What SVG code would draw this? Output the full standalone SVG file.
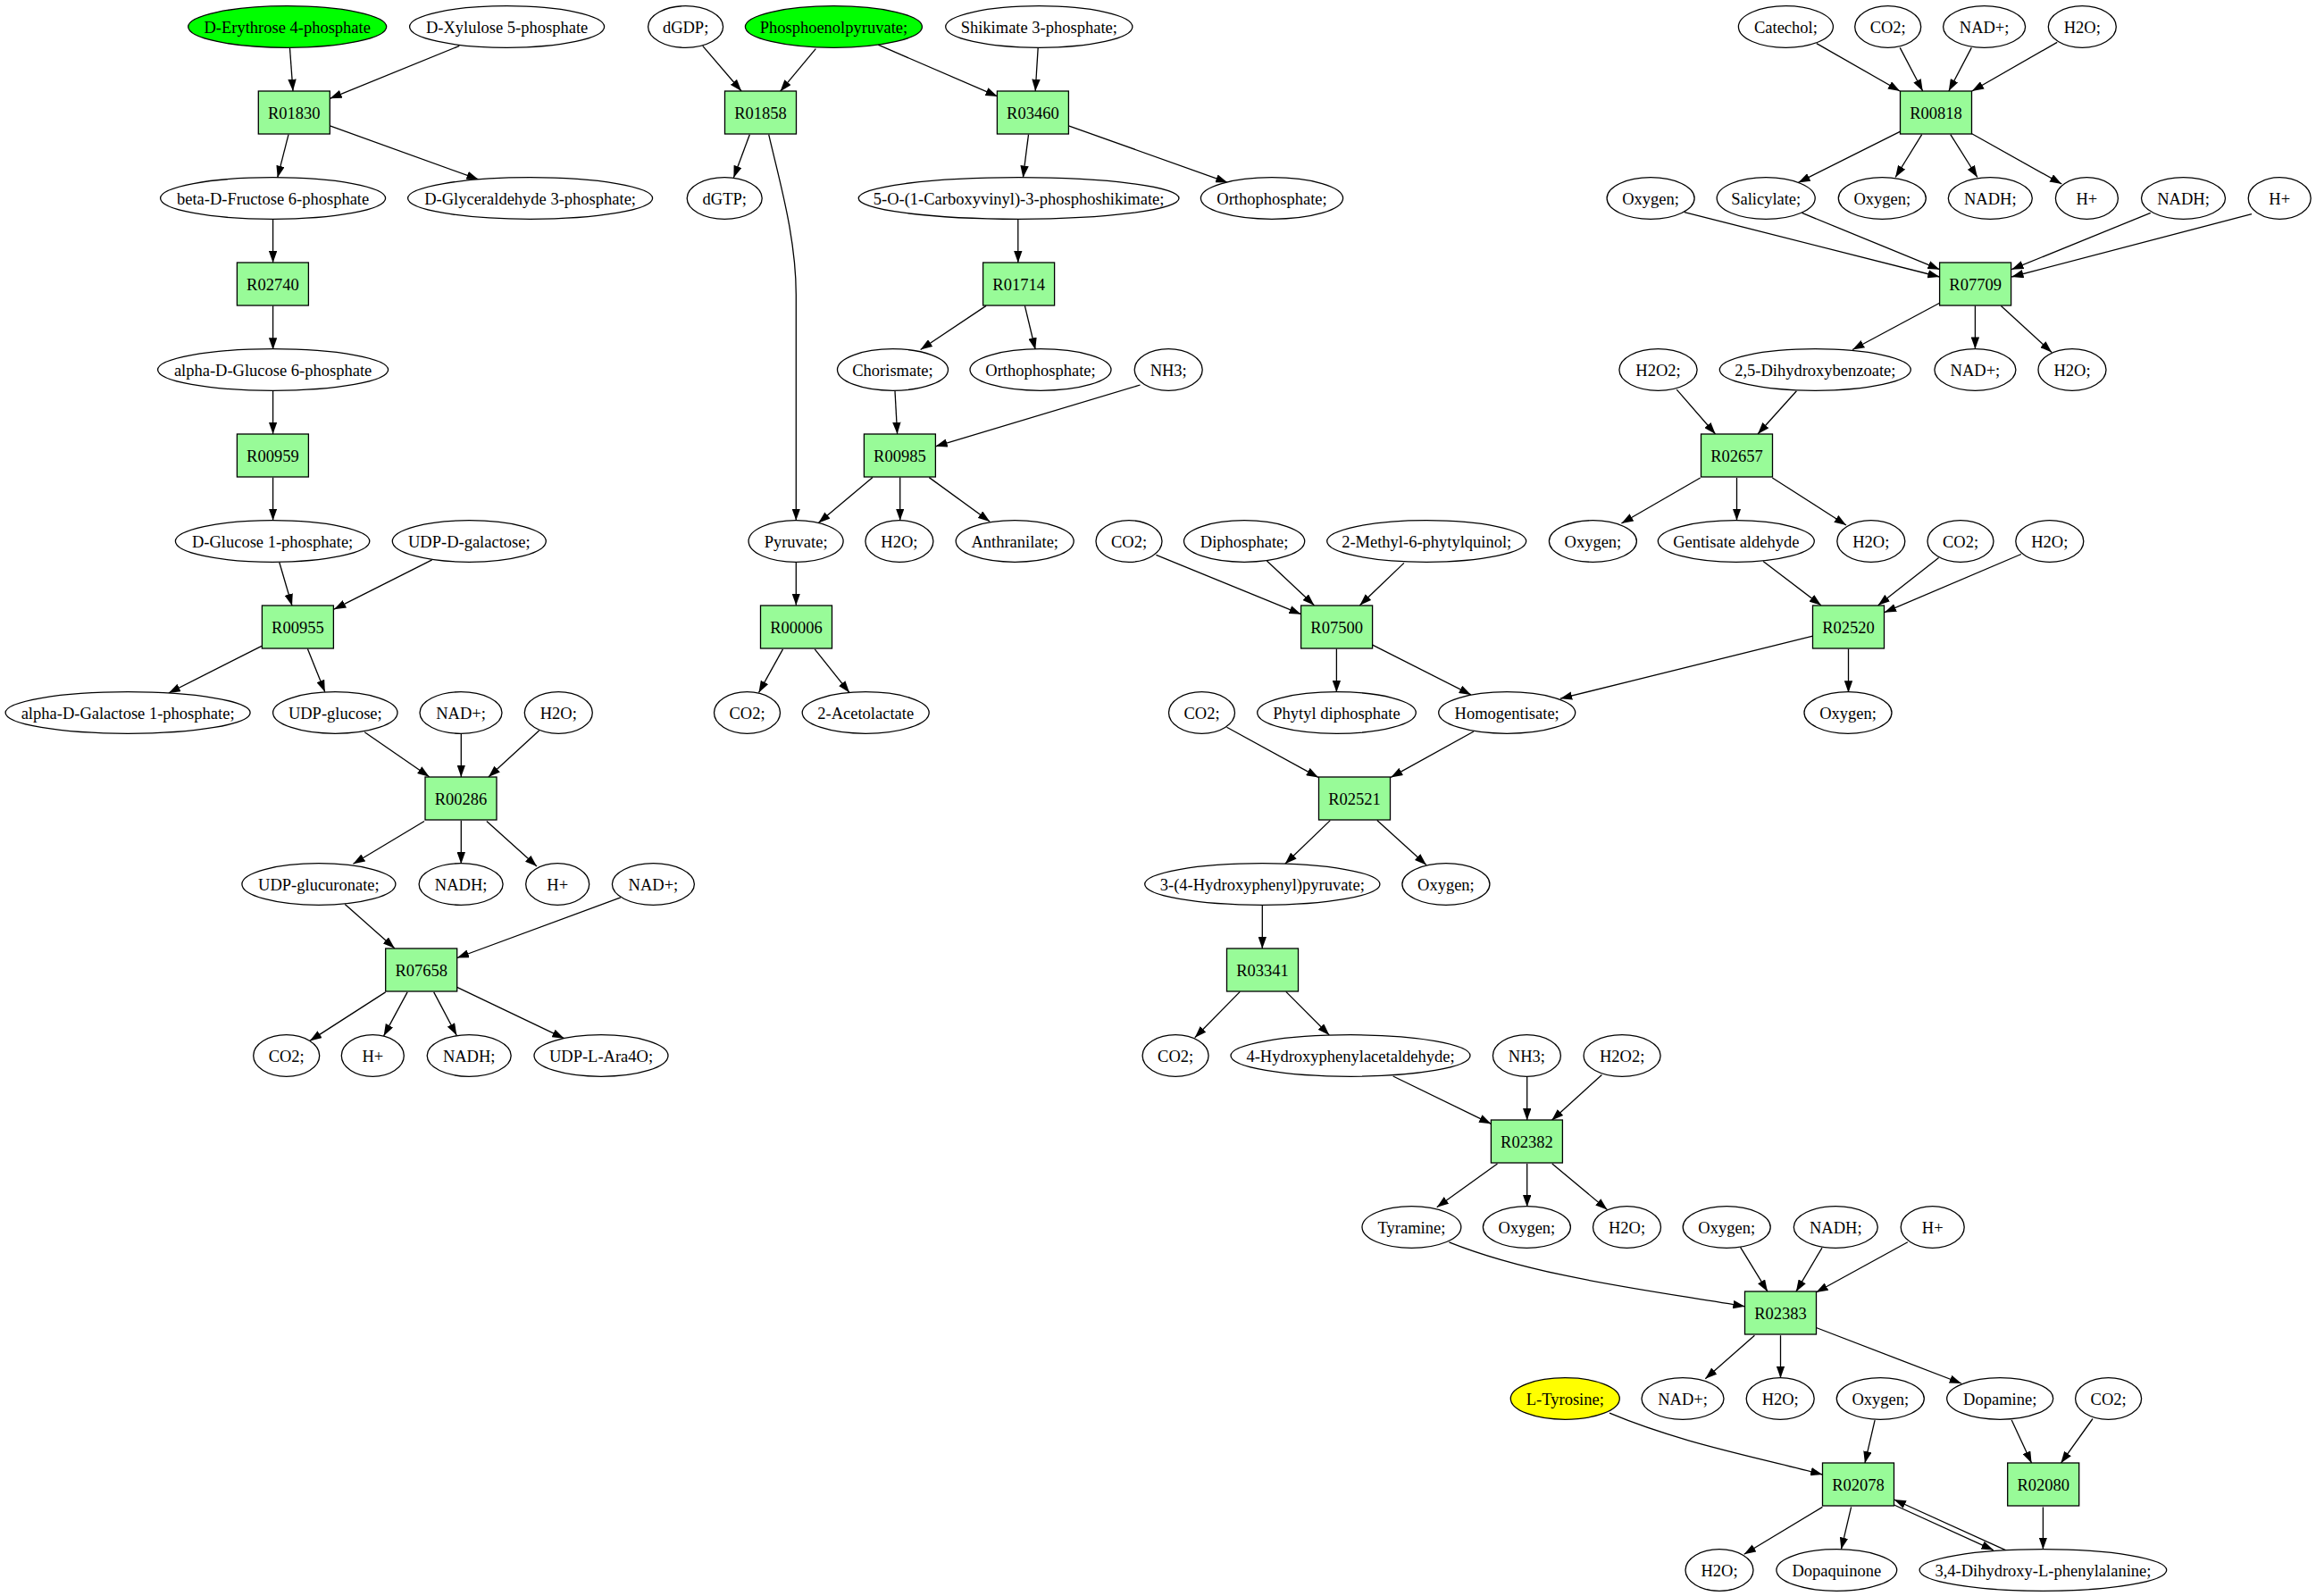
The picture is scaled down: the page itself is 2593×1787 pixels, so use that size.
<svg xmlns="http://www.w3.org/2000/svg" width="2593" height="1787" viewBox="0 0 2593 1787">
<style>
.e{fill:#fff;stroke:#000;stroke-width:1.3}
.g{fill:#00ff00;stroke:#000;stroke-width:1.3}
.y{fill:#ffff00;stroke:#000;stroke-width:1.3}
.r{fill:#98fb98;stroke:#000;stroke-width:1.3}
text{font-family:"Liberation Serif","Times New Roman",serif;font-size:18.5px;text-anchor:middle;fill:#000}
#edges line,#edges path{stroke:#000;stroke-width:1.3;fill:none;marker-end:url(#a)}
</style>
<defs>
<marker id="a" markerUnits="userSpaceOnUse" viewBox="0 0 13.3 9.4" markerWidth="13.3" markerHeight="9.4" refX="13.3" refY="4.7" orient="auto"><path d="M0,0 L13.3,4.7 L0,9.4 z" fill="#000"/></marker>
</defs>
<rect width="2593" height="1787" fill="#fff"/>
<g id="edges">
<line x1="324.5" y1="54" x2="328" y2="102"/>
<line x1="514.3" y1="51.4" x2="369.4" y2="110.3"/>
<line x1="323" y1="150.7" x2="310.7" y2="198.9"/>
<line x1="369.4" y1="140.8" x2="535.7" y2="200.9"/>
<line x1="305.6" y1="245.5" x2="305.6" y2="294.2"/>
<line x1="305.6" y1="342.4" x2="305.6" y2="391.5"/>
<line x1="305.6" y1="437.7" x2="305.6" y2="486"/>
<line x1="305.6" y1="534.6" x2="305.6" y2="582.8"/>
<line x1="312.8" y1="629.7" x2="327" y2="678.3"/>
<line x1="483.7" y1="626.9" x2="374" y2="682.2"/>
<line x1="292.9" y1="723.4" x2="188.8" y2="776"/>
<line x1="344.4" y1="726.5" x2="363.8" y2="774.8"/>
<line x1="408.2" y1="819.8" x2="480.6" y2="869.7"/>
<line x1="516.3" y1="821.4" x2="516.3" y2="870"/>
<line x1="603.6" y1="817.9" x2="546.9" y2="870"/>
<line x1="475" y1="919.5" x2="395.4" y2="967.3"/>
<line x1="516.3" y1="918.7" x2="516.3" y2="967.3"/>
<line x1="544.9" y1="919.5" x2="601" y2="970.1"/>
<line x1="386.2" y1="1012.4" x2="441.8" y2="1061.8"/>
<line x1="694.9" y1="1004.9" x2="511.7" y2="1072.5"/>
<line x1="431.6" y1="1110.9" x2="346.9" y2="1165.4"/>
<line x1="456.1" y1="1110.9" x2="429.6" y2="1159.9"/>
<line x1="485.7" y1="1110.9" x2="511.2" y2="1159.1"/>
<line x1="511.7" y1="1105.3" x2="631.6" y2="1162.7"/>
<line x1="786.7" y1="51.4" x2="830.1" y2="102"/>
<line x1="913.3" y1="54.6" x2="873.5" y2="102.4"/>
<line x1="983.2" y1="50.2" x2="1116.8" y2="107.9"/>
<line x1="1162.2" y1="53.4" x2="1159.2" y2="102"/>
<line x1="839.3" y1="150.7" x2="821.4" y2="198.9"/>
<path d="M860.7,150.7 C872,200 891.3,265 891.3,330 L891.3,582.8"/>
<line x1="1151.5" y1="150.7" x2="1145.4" y2="198.9"/>
<line x1="1196.4" y1="140.8" x2="1374.5" y2="204.4"/>
<line x1="1139.8" y1="245.5" x2="1139.8" y2="294.2"/>
<line x1="1104.1" y1="342.4" x2="1030.6" y2="391.5"/>
<line x1="1147.4" y1="342.4" x2="1159.2" y2="391.5"/>
<line x1="1002" y1="437.7" x2="1004.6" y2="486"/>
<line x1="1276.5" y1="431" x2="1047.4" y2="499.8"/>
<line x1="977" y1="534.6" x2="916.3" y2="585.6"/>
<line x1="1007.7" y1="534.6" x2="1007.7" y2="582.8"/>
<line x1="1040.3" y1="534.6" x2="1108.2" y2="584"/>
<line x1="891.3" y1="630" x2="891.3" y2="677.8"/>
<line x1="876.5" y1="726.9" x2="849.5" y2="775.5"/>
<line x1="912.2" y1="726.9" x2="951" y2="775.5"/>
<line x1="1294.4" y1="621.3" x2="1456.6" y2="687.7"/>
<line x1="1418.4" y1="628" x2="1471.4" y2="677.8"/>
<line x1="1571.9" y1="630.4" x2="1522.4" y2="677.8"/>
<line x1="1496.4" y1="726.5" x2="1496.4" y2="775.1"/>
<line x1="1536.7" y1="722.1" x2="1646.9" y2="777.9"/>
<line x1="2029.7" y1="712.2" x2="1746.9" y2="782.2"/>
<line x1="1373.5" y1="814.2" x2="1476" y2="870.4"/>
<line x1="1650" y1="819" x2="1557.1" y2="870.4"/>
<line x1="1489.3" y1="918.6" x2="1438.8" y2="967.3"/>
<line x1="1541.8" y1="918.6" x2="1596.9" y2="968.5"/>
<line x1="1413.3" y1="1013.5" x2="1413.3" y2="1062.2"/>
<line x1="1388.3" y1="1110.4" x2="1337.8" y2="1161.8"/>
<line x1="1439.8" y1="1110.4" x2="1488.3" y2="1159"/>
<line x1="1559.7" y1="1205" x2="1669.4" y2="1258.3"/>
<line x1="1709.7" y1="1205.8" x2="1709.7" y2="1254.4"/>
<line x1="1793.4" y1="1203.4" x2="1737.2" y2="1254.4"/>
<line x1="1676.5" y1="1303" x2="1608.7" y2="1351.7"/>
<line x1="1709.7" y1="1303" x2="1709.7" y2="1351.3"/>
<line x1="1737.8" y1="1303" x2="1799.5" y2="1354.4"/>
<path d="M1622.4,1390.8 C1720,1430 1850,1445 1953.6,1462.8"/>
<line x1="1948.5" y1="1396.3" x2="1979" y2="1446.2"/>
<path d="M1802,1582.2 C1880,1615 1960,1630 2040.4,1651"/>
<line x1="2040" y1="1397.1" x2="2010.9" y2="1446.2"/>
<line x1="2135.9" y1="1390.8" x2="2033.3" y2="1447"/>
<line x1="1964.4" y1="1495.2" x2="1909.3" y2="1543.8"/>
<line x1="1993.5" y1="1495.2" x2="1993.5" y2="1543"/>
<line x1="2033.3" y1="1486.5" x2="2196" y2="1549"/>
<line x1="2099.1" y1="1590.1" x2="2087.9" y2="1638.3"/>
<line x1="2252.2" y1="1590.1" x2="2274.6" y2="1638.3"/>
<line x1="2343" y1="1588.5" x2="2307.3" y2="1638.3"/>
<line x1="2040.4" y1="1687.4" x2="1952.7" y2="1740.3"/>
<line x1="2072.6" y1="1687.4" x2="2061.4" y2="1734.8"/>
<line x1="2120.6" y1="1685" x2="2231.8" y2="1735.6"/>
<line x1="2247.1" y1="1736.4" x2="2120.6" y2="1679"/>
<line x1="2287.4" y1="1687.4" x2="2287.4" y2="1734.8"/>
<line x1="2033.8" y1="48.6" x2="2127.2" y2="102"/>
<line x1="2127.2" y1="53.4" x2="2152.7" y2="102"/>
<line x1="2207.3" y1="53.4" x2="2181.8" y2="102"/>
<line x1="2303.2" y1="47.4" x2="2207.8" y2="102"/>
<line x1="2127.7" y1="147.1" x2="2013.4" y2="204.4"/>
<line x1="2151.7" y1="150.7" x2="2122.1" y2="198.5"/>
<line x1="2183.8" y1="150.7" x2="2213.9" y2="198.5"/>
<line x1="2207.3" y1="149.5" x2="2308.3" y2="206"/>
<line x1="1885.9" y1="237.6" x2="2171.6" y2="310"/>
<line x1="2017.5" y1="238.4" x2="2171.6" y2="301.7"/>
<line x1="2407.8" y1="238.4" x2="2252.2" y2="301.7"/>
<line x1="2521" y1="239.6" x2="2252.2" y2="310"/>
<line x1="2171.6" y1="339.3" x2="2074.1" y2="391.5"/>
<line x1="2211.4" y1="342.4" x2="2211.4" y2="390.7"/>
<line x1="2240.4" y1="342.4" x2="2297.1" y2="394.6"/>
<line x1="1877.2" y1="436.1" x2="1920.6" y2="486"/>
<line x1="2011.4" y1="437.7" x2="1968" y2="486"/>
<line x1="1903.7" y1="535" x2="1815.4" y2="586"/>
<line x1="1944.5" y1="535" x2="1944.5" y2="582.8"/>
<line x1="1984.3" y1="535" x2="2067" y2="588"/>
<line x1="1974.1" y1="628.4" x2="2038.9" y2="677.8"/>
<line x1="2170.6" y1="624.5" x2="2102.7" y2="677.8"/>
<line x1="2262.9" y1="620.5" x2="2109.8" y2="685.7"/>
<line x1="2069.5" y1="726.5" x2="2069.5" y2="775.5"/>
</g>
<g id="R01830"><rect class="r" x="289.3" y="102" width="80" height="48"/><text x="329.3" y="132.5">R01830</text></g>
<g id="R02740"><rect class="r" x="265.4" y="294" width="80" height="48"/><text x="305.4" y="324.5">R02740</text></g>
<g id="R00959"><rect class="r" x="265.4" y="486" width="80" height="48"/><text x="305.4" y="516.5">R00959</text></g>
<g id="R00955"><rect class="r" x="293.4" y="678" width="80" height="48"/><text x="333.4" y="708.5">R00955</text></g>
<g id="R00286"><rect class="r" x="476" y="870" width="80" height="48"/><text x="516" y="900.5">R00286</text></g>
<g id="R07658"><rect class="r" x="431.7" y="1062" width="80" height="48"/><text x="471.7" y="1092.5">R07658</text></g>
<g id="R01858"><rect class="r" x="811.5" y="102" width="80" height="48"/><text x="851.5" y="132.5">R01858</text></g>
<g id="R03460"><rect class="r" x="1116.4" y="102" width="80" height="48"/><text x="1156.4" y="132.5">R03460</text></g>
<g id="R01714"><rect class="r" x="1100.6" y="294" width="80" height="48"/><text x="1140.6" y="324.5">R01714</text></g>
<g id="R00985"><rect class="r" x="967.4" y="486" width="80" height="48"/><text x="1007.4" y="516.5">R00985</text></g>
<g id="R00006"><rect class="r" x="851.5" y="678" width="80" height="48"/><text x="891.5" y="708.5">R00006</text></g>
<g id="R07500"><rect class="r" x="1456.6" y="678" width="80" height="48"/><text x="1496.6" y="708.5">R07500</text></g>
<g id="R02521"><rect class="r" x="1476.5" y="870" width="80" height="48"/><text x="1516.5" y="900.5">R02521</text></g>
<g id="R03341"><rect class="r" x="1373.5" y="1062" width="80" height="48"/><text x="1413.5" y="1092.5">R03341</text></g>
<g id="R02382"><rect class="r" x="1669.4" y="1254" width="80" height="48"/><text x="1709.4" y="1284.5">R02382</text></g>
<g id="R02383"><rect class="r" x="1953.5" y="1446" width="80" height="48"/><text x="1993.5" y="1476.5">R02383</text></g>
<g id="R02078"><rect class="r" x="2040.5" y="1638" width="80" height="48"/><text x="2080.5" y="1668.5">R02078</text></g>
<g id="R02080"><rect class="r" x="2247.7" y="1638" width="80" height="48"/><text x="2287.7" y="1668.5">R02080</text></g>
<g id="R00818"><rect class="r" x="2127.5" y="102" width="80" height="48"/><text x="2167.5" y="132.5">R00818</text></g>
<g id="R07709"><rect class="r" x="2171.6" y="294" width="80" height="48"/><text x="2211.6" y="324.5">R07709</text></g>
<g id="R02657"><rect class="r" x="1904.5" y="486" width="80" height="48"/><text x="1944.5" y="516.5">R02657</text></g>
<g id="R02520"><rect class="r" x="2029.5" y="678" width="80" height="48"/><text x="2069.5" y="708.5">R02520</text></g>
<g id="c_erythrose4p"><ellipse class="g" cx="321.7" cy="30" rx="111" ry="23.3"/><text x="321.7" y="36.5">D-Erythrose 4-phosphate</text></g>
<g id="c_xylulose5p"><ellipse class="e" cx="567.6" cy="30" rx="109" ry="23.3"/><text x="567.6" y="36.5">D-Xylulose 5-phosphate</text></g>
<g id="c_dgdp"><ellipse class="e" cx="767.6" cy="30" rx="42" ry="23.3"/><text x="767.6" y="36.5">dGDP;</text></g>
<g id="c_pep"><ellipse class="g" cx="933.4" cy="30" rx="99" ry="23.3"/><text x="933.4" y="36.5">Phosphoenolpyruvate;</text></g>
<g id="c_shikimate3p"><ellipse class="e" cx="1163.3" cy="30" rx="104.6" ry="23.3"/><text x="1163.3" y="36.5">Shikimate 3-phosphate;</text></g>
<g id="c_catechol"><ellipse class="e" cx="1999.4" cy="30" rx="53" ry="23.3"/><text x="1999.4" y="36.5">Catechol;</text></g>
<g id="c_co2_1"><ellipse class="e" cx="2113.7" cy="30" rx="37" ry="23.3"/><text x="2113.7" y="36.5">CO2;</text></g>
<g id="c_nad_1"><ellipse class="e" cx="2221.6" cy="30" rx="46" ry="23.3"/><text x="2221.6" y="36.5">NAD+;</text></g>
<g id="c_h2o_1"><ellipse class="e" cx="2331.3" cy="30" rx="38" ry="23.3"/><text x="2331.3" y="36.5">H2O;</text></g>
<g id="c_fructose6p"><ellipse class="e" cx="305.6" cy="222" rx="126" ry="23.3"/><text x="305.6" y="228.5">beta-D-Fructose 6-phosphate</text></g>
<g id="c_glyceraldehyde3p"><ellipse class="e" cx="593.6" cy="222" rx="137" ry="23.3"/><text x="593.6" y="228.5">D-Glyceraldehyde 3-phosphate;</text></g>
<g id="c_dgtp"><ellipse class="e" cx="811.2" cy="222" rx="42" ry="23.3"/><text x="811.2" y="228.5">dGTP;</text></g>
<g id="c_cvps"><ellipse class="e" cx="1140.6" cy="222" rx="179.4" ry="23.3"/><text x="1140.6" y="228.5">5-O-(1-Carboxyvinyl)-3-phosphoshikimate;</text></g>
<g id="c_orthop_1"><ellipse class="e" cx="1424" cy="222" rx="79.6" ry="23.3"/><text x="1424" y="228.5">Orthophosphate;</text></g>
<g id="c_oxygen_1"><ellipse class="e" cx="1848.1" cy="222" rx="49" ry="23.3"/><text x="1848.1" y="228.5">Oxygen;</text></g>
<g id="c_salicylate"><ellipse class="e" cx="1977.2" cy="222" rx="55" ry="23.3"/><text x="1977.2" y="228.5">Salicylate;</text></g>
<g id="c_oxygen_2"><ellipse class="e" cx="2107.3" cy="222" rx="49" ry="23.3"/><text x="2107.3" y="228.5">Oxygen;</text></g>
<g id="c_nadh_1"><ellipse class="e" cx="2228.3" cy="222" rx="47" ry="23.3"/><text x="2228.3" y="228.5">NADH;</text></g>
<g id="c_hplus_1"><ellipse class="e" cx="2336.4" cy="222" rx="35" ry="23.3"/><text x="2336.4" y="228.5">H+</text></g>
<g id="c_nadh_2"><ellipse class="e" cx="2444.5" cy="222" rx="47" ry="23.3"/><text x="2444.5" y="228.5">NADH;</text></g>
<g id="c_hplus_2"><ellipse class="e" cx="2552.2" cy="222" rx="35" ry="23.3"/><text x="2552.2" y="228.5">H+</text></g>
<g id="c_glucose6p"><ellipse class="e" cx="305.6" cy="414" rx="129" ry="23.3"/><text x="305.6" y="420.5">alpha-D-Glucose 6-phosphate</text></g>
<g id="c_chorismate"><ellipse class="e" cx="999.5" cy="414" rx="62" ry="23.3"/><text x="999.5" y="420.5">Chorismate;</text></g>
<g id="c_orthop_2"><ellipse class="e" cx="1165" cy="414" rx="79" ry="23.3"/><text x="1165" y="420.5">Orthophosphate;</text></g>
<g id="c_nh3_1"><ellipse class="e" cx="1308.2" cy="414" rx="38" ry="23.3"/><text x="1308.2" y="420.5">NH3;</text></g>
<g id="c_h2o2_1"><ellipse class="e" cx="1856.5" cy="414" rx="43.6" ry="23.3"/><text x="1856.5" y="420.5">H2O2;</text></g>
<g id="c_dhb"><ellipse class="e" cx="2032.3" cy="414" rx="107" ry="23.3"/><text x="2032.3" y="420.5">2,5-Dihydroxybenzoate;</text></g>
<g id="c_nad_2"><ellipse class="e" cx="2211.4" cy="414" rx="45.5" ry="23.3"/><text x="2211.4" y="420.5">NAD+;</text></g>
<g id="c_h2o_2"><ellipse class="e" cx="2320" cy="414" rx="38" ry="23.3"/><text x="2320" y="420.5">H2O;</text></g>
<g id="c_glucose1p"><ellipse class="e" cx="305.1" cy="606" rx="108.7" ry="23.3"/><text x="305.1" y="612.5">D-Glucose 1-phosphate;</text></g>
<g id="c_udpgal"><ellipse class="e" cx="525.3" cy="606" rx="86" ry="23.3"/><text x="525.3" y="612.5">UDP-D-galactose;</text></g>
<g id="c_pyruvate"><ellipse class="e" cx="891.1" cy="606" rx="53" ry="23.3"/><text x="891.1" y="612.5">Pyruvate;</text></g>
<g id="c_h2o_3"><ellipse class="e" cx="1006.9" cy="606" rx="38" ry="23.3"/><text x="1006.9" y="612.5">H2O;</text></g>
<g id="c_anthranilate"><ellipse class="e" cx="1136.2" cy="606" rx="66" ry="23.3"/><text x="1136.2" y="612.5">Anthranilate;</text></g>
<g id="c_co2_2"><ellipse class="e" cx="1264" cy="606" rx="37" ry="23.3"/><text x="1264" y="612.5">CO2;</text></g>
<g id="c_diphosphate"><ellipse class="e" cx="1393.1" cy="606" rx="67.6" ry="23.3"/><text x="1393.1" y="612.5">Diphosphate;</text></g>
<g id="c_mpq"><ellipse class="e" cx="1597.2" cy="606" rx="111.5" ry="23.3"/><text x="1597.2" y="612.5">2-Methyl-6-phytylquinol;</text></g>
<g id="c_oxygen_3"><ellipse class="e" cx="1783.4" cy="606" rx="49" ry="23.3"/><text x="1783.4" y="612.5">Oxygen;</text></g>
<g id="c_gentisald"><ellipse class="e" cx="1943.8" cy="606" rx="87.5" ry="23.3"/><text x="1943.8" y="612.5">Gentisate aldehyde</text></g>
<g id="c_h2o_4"><ellipse class="e" cx="2094.8" cy="606" rx="38" ry="23.3"/><text x="2094.8" y="612.5">H2O;</text></g>
<g id="c_co2_3"><ellipse class="e" cx="2195" cy="606" rx="37" ry="23.3"/><text x="2195" y="612.5">CO2;</text></g>
<g id="c_h2o_5"><ellipse class="e" cx="2294.8" cy="606" rx="38" ry="23.3"/><text x="2294.8" y="612.5">H2O;</text></g>
<g id="c_galactose1p"><ellipse class="e" cx="143.1" cy="798" rx="137" ry="23.3"/><text x="143.1" y="804.5">alpha-D-Galactose 1-phosphate;</text></g>
<g id="c_udpglc"><ellipse class="e" cx="375.3" cy="798" rx="69.7" ry="23.3"/><text x="375.3" y="804.5">UDP-glucose;</text></g>
<g id="c_nad_3"><ellipse class="e" cx="516" cy="798" rx="46" ry="23.3"/><text x="516" y="804.5">NAD+;</text></g>
<g id="c_h2o_6"><ellipse class="e" cx="625.3" cy="798" rx="38" ry="23.3"/><text x="625.3" y="804.5">H2O;</text></g>
<g id="c_co2_4"><ellipse class="e" cx="836.5" cy="798" rx="37" ry="23.3"/><text x="836.5" y="804.5">CO2;</text></g>
<g id="c_acetolactate"><ellipse class="e" cx="969.2" cy="798" rx="71" ry="23.3"/><text x="969.2" y="804.5">2-Acetolactate</text></g>
<g id="c_co2_5"><ellipse class="e" cx="1345.5" cy="798" rx="37" ry="23.3"/><text x="1345.5" y="804.5">CO2;</text></g>
<g id="c_phytyldp"><ellipse class="e" cx="1496.5" cy="798" rx="88.8" ry="23.3"/><text x="1496.5" y="804.5">Phytyl diphosphate</text></g>
<g id="c_homogentisate"><ellipse class="e" cx="1687.2" cy="798" rx="76.5" ry="23.3"/><text x="1687.2" y="804.5">Homogentisate;</text></g>
<g id="c_oxygen_4"><ellipse class="e" cx="2069" cy="798" rx="49" ry="23.3"/><text x="2069" y="804.5">Oxygen;</text></g>
<g id="c_udpglcA"><ellipse class="e" cx="356.9" cy="990" rx="86" ry="23.3"/><text x="356.9" y="996.5">UDP-glucuronate;</text></g>
<g id="c_nadh_3"><ellipse class="e" cx="516.1" cy="990" rx="47" ry="23.3"/><text x="516.1" y="996.5">NADH;</text></g>
<g id="c_hplus_3"><ellipse class="e" cx="624.2" cy="990" rx="35.5" ry="23.3"/><text x="624.2" y="996.5">H+</text></g>
<g id="c_nad_4"><ellipse class="e" cx="731.4" cy="990" rx="46" ry="23.3"/><text x="731.4" y="996.5">NAD+;</text></g>
<g id="c_hpp"><ellipse class="e" cx="1413.3" cy="990" rx="131.6" ry="23.3"/><text x="1413.3" y="996.5">3-(4-Hydroxyphenyl)pyruvate;</text></g>
<g id="c_oxygen_5"><ellipse class="e" cx="1618.9" cy="990" rx="49" ry="23.3"/><text x="1618.9" y="996.5">Oxygen;</text></g>
<g id="c_co2_6"><ellipse class="e" cx="320.7" cy="1182" rx="37" ry="23.3"/><text x="320.7" y="1188.5">CO2;</text></g>
<g id="c_hplus_4"><ellipse class="e" cx="417.3" cy="1182" rx="35" ry="23.3"/><text x="417.3" y="1188.5">H+</text></g>
<g id="c_nadh_4"><ellipse class="e" cx="525.2" cy="1182" rx="47" ry="23.3"/><text x="525.2" y="1188.5">NADH;</text></g>
<g id="c_udpara4o"><ellipse class="e" cx="673" cy="1182" rx="75" ry="23.3"/><text x="673" y="1188.5">UDP-L-Ara4O;</text></g>
<g id="c_co2_7"><ellipse class="e" cx="1316.1" cy="1182" rx="37" ry="23.3"/><text x="1316.1" y="1188.5">CO2;</text></g>
<g id="c_hpa"><ellipse class="e" cx="1512" cy="1182" rx="134" ry="23.3"/><text x="1512" y="1188.5">4-Hydroxyphenylacetaldehyde;</text></g>
<g id="c_nh3_2"><ellipse class="e" cx="1709.4" cy="1182" rx="38" ry="23.3"/><text x="1709.4" y="1188.5">NH3;</text></g>
<g id="c_h2o2_2"><ellipse class="e" cx="1816.1" cy="1182" rx="43" ry="23.3"/><text x="1816.1" y="1188.5">H2O2;</text></g>
<g id="c_tyramine"><ellipse class="e" cx="1580.4" cy="1374" rx="55.4" ry="23.3"/><text x="1580.4" y="1380.5">Tyramine;</text></g>
<g id="c_oxygen_6"><ellipse class="e" cx="1709.4" cy="1374" rx="49" ry="23.3"/><text x="1709.4" y="1380.5">Oxygen;</text></g>
<g id="c_h2o_7"><ellipse class="e" cx="1821.5" cy="1374" rx="38" ry="23.3"/><text x="1821.5" y="1380.5">H2O;</text></g>
<g id="c_oxygen_7"><ellipse class="e" cx="1933.2" cy="1374" rx="49" ry="23.3"/><text x="1933.2" y="1380.5">Oxygen;</text></g>
<g id="c_nadh_5"><ellipse class="e" cx="2055.3" cy="1374" rx="47" ry="23.3"/><text x="2055.3" y="1380.5">NADH;</text></g>
<g id="c_hplus_5"><ellipse class="e" cx="2163.7" cy="1374" rx="35.5" ry="23.3"/><text x="2163.7" y="1380.5">H+</text></g>
<g id="c_ltyrosine"><ellipse class="y" cx="1752.3" cy="1566" rx="61" ry="23.3"/><text x="1752.3" y="1572.5">L-Tyrosine;</text></g>
<g id="c_nad_5"><ellipse class="e" cx="1884" cy="1566" rx="46" ry="23.3"/><text x="1884" y="1572.5">NAD+;</text></g>
<g id="c_h2o_8"><ellipse class="e" cx="1993.2" cy="1566" rx="38" ry="23.3"/><text x="1993.2" y="1572.5">H2O;</text></g>
<g id="c_oxygen_8"><ellipse class="e" cx="2105.3" cy="1566" rx="49" ry="23.3"/><text x="2105.3" y="1572.5">Oxygen;</text></g>
<g id="c_dopamine"><ellipse class="e" cx="2239.2" cy="1566" rx="59.5" ry="23.3"/><text x="2239.2" y="1572.5">Dopamine;</text></g>
<g id="c_co2_8"><ellipse class="e" cx="2360.6" cy="1566" rx="37" ry="23.3"/><text x="2360.6" y="1572.5">CO2;</text></g>
<g id="c_h2o_9"><ellipse class="e" cx="1925" cy="1758" rx="38" ry="23.3"/><text x="1925" y="1764.5">H2O;</text></g>
<g id="c_dopaquinone"><ellipse class="e" cx="2056.3" cy="1758" rx="67.4" ry="23.3"/><text x="2056.3" y="1764.5">Dopaquinone</text></g>
<g id="c_dopa"><ellipse class="e" cx="2287.4" cy="1758" rx="138.3" ry="23.3"/><text x="2287.4" y="1764.5">3,4-Dihydroxy-L-phenylalanine;</text></g>
</svg>
